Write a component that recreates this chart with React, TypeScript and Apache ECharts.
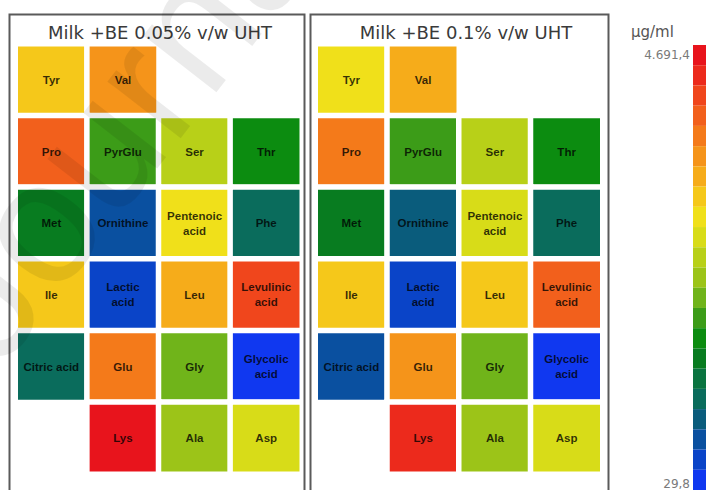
import React, { useEffect, useRef } from 'react';
import * as echarts from 'echarts';

// Panel headings (two UHT milk samples with bioactive extract)
const panelTitles = ['Milk +BE 0.05% v/w UHT', 'Milk +BE 0.1% v/w UHT'];

// Tile grid: 4 columns x 6 rows
const gridColumns = ['1', '2', '3', '4'];
const gridRows = ['1', '2', '3', '4', '5', '6'];

// Compounds and their tile slot in the grid
const compounds = [
  'Tyr', 'Val',
  'Pro', 'PyrGlu', 'Ser', 'Thr',
  'Met', 'Ornithine', 'Pentenoic\nacid', 'Phe',
  'Ile', 'Lactic\nacid', 'Leu', 'Levulinic\nacid',
  'Citric acid', 'Glu', 'Gly', 'Glycolic\nacid',
  'Lys', 'Ala', 'Asp',
];
const tileColumn = [0, 1, 0, 1, 2, 3, 0, 1, 2, 3, 0, 1, 2, 3, 0, 1, 2, 3, 1, 2, 3];
const tileRow = [0, 0, 1, 1, 1, 1, 2, 2, 2, 2, 3, 3, 3, 3, 4, 4, 4, 4, 5, 5, 5];

// Concentrations (µg/ml), same order as compounds
const uht005 = [3120, 3510, 3960, 1830, 2470, 1610, 1420, 560, 2900, 980, 3050, 350, 3300, 4150, 900, 3700, 2040, 120, 4580, 2250, 2680];
const uht01 = [2880, 3350, 3760, 1800, 2420, 1650, 1390, 760, 2650, 960, 3100, 330, 3040, 3900, 600, 3560, 1990, 140, 4350, 2200, 2740];

// Colour scale
const scaleMin = 29.8;
const scaleMax = 4691.4;
const scaleSteps = 22;
const unitLabel = 'µg/ml';
const scaleColors = [
  '#1038f0', '#0a44c8', '#0a50a0', '#0a5c7c', '#0a6c5c', '#0a7440',
  '#087c20', '#0c8c10', '#3c9c18', '#70b41a', '#9cc418', '#b8d018',
  '#d8dc18', '#f0e01a', '#f5c81a', '#f6ac1a', '#f5941a', '#f47a1a',
  '#f2601c', '#f0461c', '#ec2a1c', '#e8141c',
];

const watermarkText = 'Journal Pre-proof';

function formatDecimalComma(v: number): string {
  const [intPart, frac] = v.toFixed(1).split('.');
  return intPart.replace(/\B(?=(\d{3})+(?!\d))/g, '.') + ',' + frac;
}

const BAR_TOP = 45;
const BAR_HEIGHT = 445;

function buildOption(): echarts.EChartsCoreOption {
  const grids = [
    { left: 15.5, top: 44, width: 286.5, height: 430 },
    { left: 315.5, top: 44, width: 287, height: 430 },
  ];
  const panels = [uht005, uht01];

  const series = panels.map((values, i) => ({
    type: 'heatmap',
    xAxisIndex: i,
    yAxisIndex: i,
    data: values.map((v, k) => [tileColumn[k], tileRow[k], v]),
    itemStyle: { borderColor: '#ffffff', borderWidth: 5.5 },
    label: {
      show: true,
      formatter: (p: any) => compounds[p.dataIndex],
      fontFamily: '"Liberation Sans", Arial, sans-serif',
      fontWeight: 'bold',
      fontSize: 11.5,
      lineHeight: 15,
      color: 'rgba(0,0,0,0.78)',
    },
    emphasis: { disabled: true },
  }));

  const titleX = [160, 466];

  return {
    animation: false,
    backgroundColor: '#ffffff',
    grid: grids,
    xAxis: grids.map((_, i) => ({
      type: 'category',
      data: gridColumns,
      gridIndex: i,
      show: false,
    })),
    yAxis: grids.map((_, i) => ({
      type: 'category',
      data: gridRows,
      gridIndex: i,
      inverse: true,
      show: false,
    })),
    visualMap: [
      {
        type: 'piecewise',
        min: scaleMin,
        max: scaleMax,
        splitNumber: scaleSteps,
        orient: 'vertical',
        left: 693,
        top: BAR_TOP,
        padding: 0,
        itemWidth: 13,
        itemHeight: BAR_HEIGHT / scaleSteps,
        itemGap: 0,
        itemSymbol: 'rect',
        showLabel: false,
        selectedMode: false,
        hoverLink: false,
        seriesIndex: [0, 1],
        inRange: { color: scaleColors },
      },
    ],
    series,
    graphic: [
      {
        type: 'text',
        silent: true,
        z: 200,
        x: 21,
        y: 387,
        rotation: 0.91,
        style: {
          text: watermarkText,
          font: '175px "Liberation Sans", Arial, sans-serif',
          fill: 'rgba(0,0,0,0.08)',
          textAlign: 'left',
          align: 'left',
          textVerticalAlign: 'bottom',
          verticalAlign: 'bottom',
        },
      },
      {
        type: 'rect',
        silent: true,
        z: 100,
        shape: { x: 9.5, y: 14.5, width: 295, height: 490 },
        style: { fill: 'none', stroke: '#5a5a5a', lineWidth: 2 },
      },
      {
        type: 'rect',
        silent: true,
        z: 100,
        shape: { x: 310.5, y: 14.5, width: 298, height: 490 },
        style: { fill: 'none', stroke: '#5a5a5a', lineWidth: 2 },
      },
      ...panelTitles.map((t, i) => ({
        type: 'text',
        silent: true,
        z: 100,
        x: titleX[i],
        y: 32,
        style: {
          text: t,
          font: '18px "DejaVu Sans", sans-serif',
          fill: '#3a3a3a',
          textAlign: 'center',
          align: 'center',
          textVerticalAlign: 'middle',
          verticalAlign: 'middle',
        },
      })),
      {
        type: 'text',
        silent: true,
        x: 631,
        y: 32,
        style: {
          text: unitLabel,
          font: '15px "DejaVu Sans", sans-serif',
          fill: '#555555',
          textAlign: 'left',
          align: 'left',
          textVerticalAlign: 'middle',
          verticalAlign: 'middle',
        },
      },
      {
        type: 'text',
        silent: true,
        x: 690,
        y: 55,
        style: {
          text: formatDecimalComma(scaleMax),
          font: '12px "DejaVu Sans", sans-serif',
          fill: '#7a7a7a',
          textAlign: 'right',
          align: 'right',
          textVerticalAlign: 'middle',
          verticalAlign: 'middle',
        },
      },
      {
        type: 'text',
        silent: true,
        x: 690,
        y: 484,
        style: {
          text: formatDecimalComma(scaleMin),
          font: '12px "DejaVu Sans", sans-serif',
          fill: '#7a7a7a',
          textAlign: 'right',
          align: 'right',
          textVerticalAlign: 'middle',
          verticalAlign: 'middle',
        },
      },
    ],
  };
}

export default function App() {
  const ref = useRef<HTMLDivElement>(null);

  useEffect(() => {
    if (!ref.current) return;
    const chart = echarts.init(ref.current, undefined, { renderer: 'svg' });
    chart.setOption(buildOption());
    return () => chart.dispose();
  }, []);

  return (
    <div
      ref={ref}
      style={{ position: 'absolute', left: 0, top: 0, width: 710, height: 490, background: '#fff' }}
    />
  );
}
